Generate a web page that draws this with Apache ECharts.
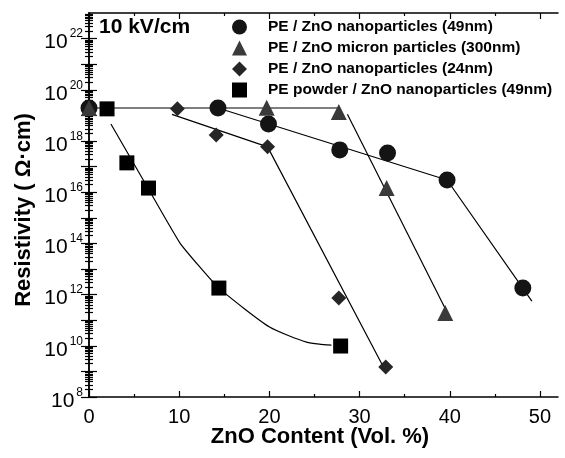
<!DOCTYPE html>
<html><head><meta charset="utf-8">
<script src="https://cdn.jsdelivr.net/npm/echarts@6/dist/echarts.min.js"></script>
<style>html,body{margin:0;padding:0;background:#fff}#c{width:565px;height:458px}</style>
</head><body><div id="c"></div>
<script>
const FONT = '"Liberation Sans", Arial, Helvetica, sans-serif';
const names = [
  'PE / ZnO nanoparticles (49nm)',
  'PE / ZnO micron particles (300nm)',
  'PE / ZnO nanoparticles (24nm)',
  'PE powder / ZnO nanoparticles (49nm)'
];
// measured points
const circleX = [0, 14.3, 19.9, 27.8, 33.1, 39.7, 48.1];
const circleY = [1.95e19, 1.95e19, 4.6e18, 4.5e17, 3.4e17, 3.0e16, 1.8e12];
const triX = [0, 19.7, 27.7, 33.0, 39.5];
const triY = [1.95e19, 2.0e19, 1.35e19, 1.45e16, 1.9e11];
const diaX = [9.8, 14.1, 19.8, 27.7, 32.9];
const diaY = [1.8e19, 1.7e18, 5.9e17, 7.4e11, 1.5e9];
const sqX = [2.0, 4.2, 6.6, 14.4, 27.9];
const sqY = [1.8e19, 1.4e17, 1.45e16, 1.8e12, 9.8e9];
// fit lines
const flatX = [0, 27.7];
const flatY = [1.95e19, 1.95e19];
const circleFitX = [14.3, 39.7, 49.1];
const circleFitY = [1.95e19, 3.0e16, 5.6e11];
const triFitX = [28.65, 40.15];
const triFitY = [1.1e19, 1.0e11];
const diaFitX = [9.2, 19.8, 32.6];
const diaFitY = [1.1e19, 5.9e17, 1.6e9];
const sqFitX = [2.43, 6.53, 10.07, 12.28, 14.27, 17.26, 20.02, 22.23, 24.12, 25.55, 26.88];
const sqFitY = [4.6e18, 1.45e16, 1.05e14, 1.2e13, 2.0e12, 2.75e11, 5.4e10, 2.4e10, 1.4e10, 1.17e10, 1.07e10];
// ticks
const xTicks = [0, 10, 20, 30, 40, 50];
const xMinorTicks = [5, 15, 25, 35, 45];
const yLabelExps = [8, 10, 12, 14, 16, 18, 20, 22];
const yDecadeExps = [8, 9, 10, 11, 12, 13, 14, 15, 16, 17, 18, 19, 20, 21, 22];
const yLabelVals = yLabelExps.map(e => Math.pow(10, e));
const yDecadeVals = yDecadeExps.map(e => Math.pow(10, e));
const yMinorVals = [];
yDecadeExps.forEach(e => { for (let m = 2; m <= 9; m++) yMinorVals.push(m * Math.pow(10, e)); });

const pairs = (xs, ys) => xs.map((x, i) => [x, ys[i]]);
const X_MIN = 0, X_MAX = 52, Y_MIN = 1e8, Y_MAX = 1e23;

function xAx(pos, ticks, len, main) {
  return {
    type: 'value', min: X_MIN, max: X_MAX, position: pos,
    axisLine: { show: main, lineStyle: { color: '#000', width: 1.5 } },
    axisTick: { show: true, inside: true, length: len, customValues: ticks, lineStyle: { color: '#000', width: 1.2 } },
    axisLabel: main && pos === 'bottom' ? { show: true, customValues: xTicks, fontSize: 20, color: '#000', fontFamily: FONT, margin: 10 } : { show: false },
    splitLine: { show: false }
  };
}
function yAx(pos, ticks, len, main) {
  return {
    type: 'log', logBase: 10, min: Y_MIN, max: Y_MAX, position: pos,
    axisLine: { show: main, lineStyle: { color: '#000', width: 1.5 } },
    axisTick: { show: true, inside: true, length: len, customValues: ticks, lineStyle: { color: '#000', width: 1.2 } },
    axisLabel: main && pos === 'left' ? {
      show: true, customValues: yLabelVals, margin: 6,
      formatter: v => '{b|10}{s|' + Math.round(Math.log10(v)) + '}',
      rich: {
        b: { fontSize: 21, color: '#000', fontFamily: FONT, padding: [8, 0, 0, 0] },
        s: { fontSize: 12, color: '#000', fontFamily: FONT, padding: [0, 0, 9, 2] }
      }
    } : { show: false },
    splitLine: { show: false }
  };
}

const lineStyle = { color: '#000', width: 1.2 };
function fit(xs, ys, smooth) {
  return { type: 'line', data: pairs(xs, ys), symbol: 'none', smooth: smooth || false,
    lineStyle: lineStyle, silent: true, z: 1, xAxisIndex: 0, yAxisIndex: 0 };
}
function pts(name, xs, ys, symbol, size, color) {
  return { type: 'scatter', name: name, data: pairs(xs, ys), symbol: symbol, symbolSize: size,
    itemStyle: { color: color, opacity: 1 }, z: 3, xAxisIndex: 0, yAxisIndex: 0 };
}

const chart = echarts.init(document.getElementById('c'), null, { renderer: 'canvas' });
chart.setOption({
  animation: false,
  backgroundColor: '#fff',
  grid: { left: 89, right: 7, top: 13, bottom: 61 },
  graphic: [
    { type: 'text', left: 99, top: 17,
      style: { text: '10 kV/cm', fontSize: 21, fontWeight: 'bold', fill: '#000', fontFamily: FONT } },
    { type: 'text', x: 320, y: 437,
      style: { text: 'ZnO Content (Vol. %)', fontSize: 22, fontWeight: 'bold', fill: '#000', fontFamily: FONT, align: 'center', verticalAlign: 'middle' } },
    { type: 'text', x: 24, y: 210, rotation: Math.PI / 2,
      style: { text: 'Resistivity ( Ω·cm)', fontSize: 22, fontWeight: 'bold', fill: '#000', fontFamily: FONT, align: 'center', verticalAlign: 'middle' } }
  ],
  legend: {
    data: names, orient: 'vertical', left: 227, top: 14,
    itemWidth: 15, itemHeight: 15, itemGap: 5,
    textStyle: { fontSize: 15.5, fontWeight: 'bold', color: '#000', fontFamily: FONT, padding: [0, 0, 0, 16] }
  },
  xAxis: [
    xAx('bottom', xTicks, 6, true), xAx('bottom', xMinorTicks, 3, false),
    xAx('top', xTicks, 6, true), xAx('top', xMinorTicks, 3, false)
  ],
  yAxis: [
    yAx('left', yDecadeVals, 8, true), yAx('left', yMinorVals, 4, false),
    yAx('right', yDecadeVals, 8, true), yAx('right', yMinorVals, 4, false)
  ],
  series: [
    fit(flatX, flatY), fit(circleFitX, circleFitY), fit(triFitX, triFitY),
    fit(diaFitX, diaFitY), fit(sqFitX, sqFitY, 0.15),
    pts(names[0], circleX, circleY, 'circle', 17, '#141414'),
    pts(names[1], triX, triY, 'triangle', 16, '#3a3a3a'),
    pts(names[2], diaX, diaY, 'diamond', 15, '#262626'),
    pts(names[3], sqX, sqY, 'rect', 15, '#000')
  ]
});
</script></body></html>
